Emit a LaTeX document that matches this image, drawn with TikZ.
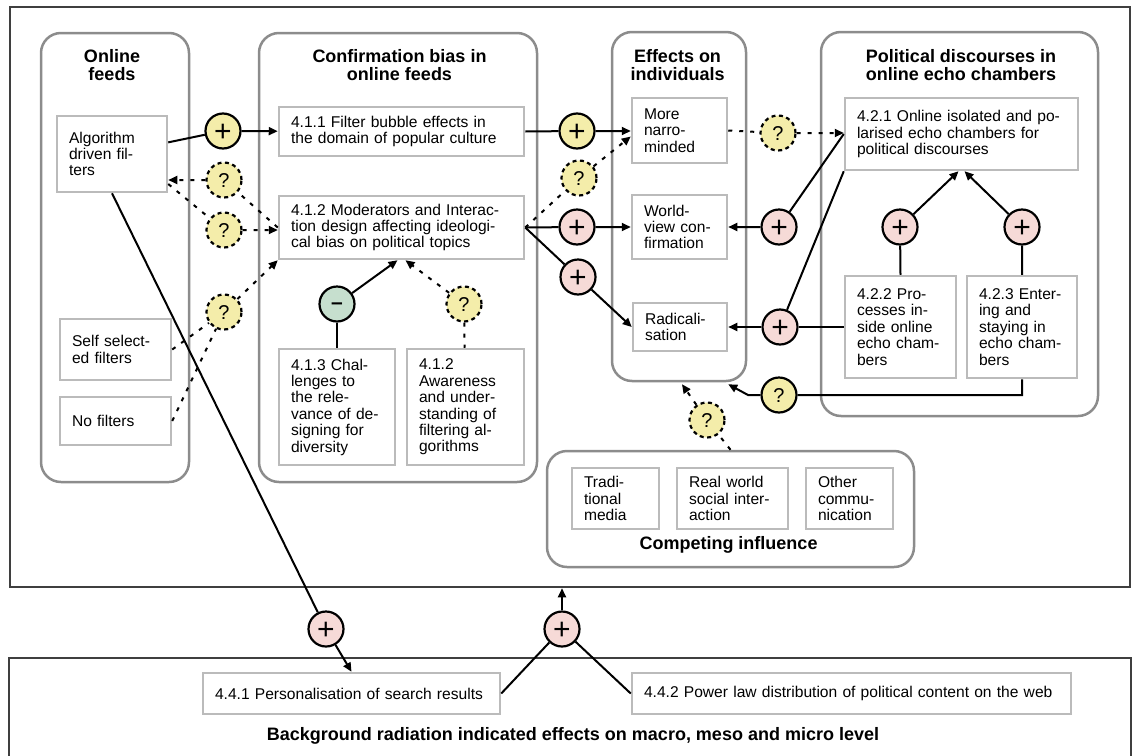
\documentclass[tikz,border=0pt]{standalone}
\usepackage{fontspec}
\setmainfont{Liberation Sans}
\usetikzlibrary{arrows.meta}
\definecolor{qyellow}{HTML}{F4EDAA}
\definecolor{ppink}{HTML}{F6DAD7}
\definecolor{mgreen}{HTML}{C6DFCE}
\definecolor{boxgray}{HTML}{BBBBBB}
\definecolor{panelgray}{HTML}{8C8C8C}
\definecolor{framegray}{HTML}{3F3F3F}
\newcommand\bodyfont{\fontsize{15.6}{16.4}\selectfont}
\newcommand\headfont{\fontsize{18}{18.5}\selectfont\bfseries}

\begin{document}
\begin{tikzpicture}[x=1pt,y=-1pt,
  outerframe/.style={draw=framegray, line width=2.5pt},
  panel/.style={draw=panelgray, line width=2.5pt, rounded corners=20pt, inner sep=0pt},
  head/.style={font=\headfont, align=center, inner sep=0pt},
  box/.style={draw=boxgray, line width=2.5pt, fill=white, font=\bodyfont, align=left, inner xsep=12pt, inner ysep=0pt},
  circ/.style={circle, draw=black, line width=2.2pt, minimum size=35pt, inner sep=0pt},
  plus/.style={circ, font=\fontsize{30}{30}\selectfont, text height=21pt, text depth=0pt},
  ppos/.style={plus, fill=ppink},
  ypos/.style={plus, fill=qyellow},
  neg/.style={circ, fill=mgreen, font=\fontsize{21}{21}\selectfont\bfseries, text height=11.5pt, text depth=0pt},
  ques/.style={circ, fill=qyellow, font=\fontsize{20}{20}\selectfont, text height=14.8pt, text depth=0pt},
  qdash/.style={ques, dash pattern=on 4pt off 3.5pt},
  conn/.style={draw=black, line width=2pt},
  arr/.style={-{Triangle[length=9pt,width=8pt]}},
  dsh/.style={dash pattern=on 4pt off 7pt},
]
\useasboundingbox (0,0) rectangle (1134,755);

% outer frames
\node[outerframe, minimum width=1120pt, minimum height=580pt, inner sep=0pt] (frameT) at (570,297) {};
\draw[outerframe] (9,770) -- (9,658) -- (1131,658) -- (1131,770);

% panels
\node[panel, minimum width=148pt, minimum height=449pt] (P1) at (115,257.5) {};
\node[panel, minimum width=278pt, minimum height=449pt] (P2) at (398,257.5) {};
\node[panel, minimum width=134pt, minimum height=349pt] (P3) at (679,206.5) {};
\node[panel, minimum width=277pt, minimum height=384pt] (P4) at (959.5,224) {};
\node[panel, minimum width=367pt, minimum height=116pt] (P5) at (730.5,509) {};

% panel headings
\node[head, anchor=north] (h1) at (112,49) {Online\\feeds};
\node[head, anchor=north] (h2) at (399.5,49) {Confirmation bias in\\online feeds};
\node[head, anchor=north] (h3) at (677.5,49) {Effects on\\individuals};
\node[head, anchor=north] (h4) at (961,49) {Political discourses in\\online echo chambers};
\node[head, anchor=base] (h5) at (728.5,549) {Competing influence};
\node[head, anchor=base] (h6) at (573,740) {Background radiation indicated effects on macro, meso and micro level};

% boxes
\node[box, text width=86pt, minimum height=76pt] (alg) at (112,154) {Algorithm\\driven fil-\\ters};
\node[box, text width=87pt, minimum height=61pt] (self) at (115.5,349.5) {Self select-\\ed filters};
\node[box, text width=87pt, minimum height=48pt] (nofilt) at (115.5,421) {No filters};
\node[box, text width=221pt, minimum height=49pt] (b411) at (401.5,131.5) {4.1.1 Filter bubble effects in\\the domain of popular culture};
\node[box, text width=221pt, minimum height=63pt] (b412) at (401.5,227.5) {4.1.2 Moderators and Interac-\\tion design affecting ideologi-\\cal bias on political topics};
\node[box, text width=92pt, minimum height=116pt] (b413) at (337,407) {4.1.3 Chal-\\lenges to\\the rele-\\vance of de-\\signing for\\diversity};
\node[box, text width=93pt, minimum height=116pt] (b412b) at (465.5,407) {4.1.2\\Awareness\\and under-\\standing of\\filtering al-\\gorithms};
\node[box, text width=71pt, minimum height=65pt] (narrow) at (679.5,130.5) {More\\narro-\\minded};
\node[box, text width=71pt, minimum height=64pt] (world) at (679.5,227) {World-\\view con-\\firmation};
\node[box, text width=70pt, minimum height=48pt] (radical) at (680,327) {Radicali-\\sation};
\node[box, text width=209pt, minimum height=72pt] (b421) at (961.5,134) {4.2.1 Online isolated and po-\\larised echo chambers for\\political discourses};
\node[box, text width=87pt, minimum height=102pt] (b422) at (900.5,327) {4.2.2 Pro-\\cesses in-\\side online\\echo cham-\\bers};
\node[box, text width=86pt, minimum height=102pt] (b423) at (1022,327) {4.2.3 Enter-\\ing and\\staying in\\echo cham-\\bers};
\node[box, text width=63pt, minimum height=61pt] (trad) at (615.5,498.5) {Tradi-\\tional\\media};
\node[box, text width=87pt, minimum height=61pt] (real) at (732.5,498.5) {Real world\\social inter-\\action};
\node[box, text width=63pt, minimum height=61pt] (other) at (849.5,498.5) {Other\\commu-\\nication};
\node[box, text width=273pt, minimum height=41pt] (b441) at (351.5,693.5) {4.4.1 Personalisation of search results};
\node[box, text width=415pt, minimum height=41pt] (b442) at (851.5,693.5) {4.4.2 Power law distribution of political content on the web};

% influence markers
\node[ypos] (pA) at (223,131) {+};
\node[qdash] (qA) at (224,180) {?};
\node[qdash] (qB) at (224,230) {?};
\node[qdash] (qC) at (224,312) {?};
\node[neg] (mn) at (337,304) {\textendash};
\node[qdash] (qD) at (464,304) {?};
\node[ypos] (pB) at (577,131) {+};
\node[qdash] (qE) at (579,178) {?};
\node[ppos] (pC) at (577,227) {+};
\node[ppos] (pD) at (578,277) {+};
\node[qdash] (qF) at (778,133) {?};
\node[ppos] (pE) at (779,227) {+};
\node[ppos] (pF) at (780,327) {+};
\node[ques] (qG) at (779,395) {?};
\node[qdash] (qH) at (707,420) {?};
\node[ppos] (pG) at (900,227) {+};
\node[ppos] (pH) at (1022,227) {+};
\node[ppos] (pI) at (326,629) {+};
\node[ppos] (pJ) at (562,629) {+};

\path (alg.east) ++(0,30) coordinate (algR);

% connectors
\draw[conn,arr] (alg) -- (pA) -- (b411);
\draw[conn,arr,dsh] (b412.west) -- (qA) -- (alg.east |- qA);
\draw[conn,arr,dsh] (algR) -- (qB) -- (b412.west |- qB);
\draw[conn,dsh] (self.east) -- (qC);
\draw[conn,dsh] (nofilt.east) -- (qC);
\draw[conn,dsh,arr] (qC) -- (b412.south west);
\draw[conn] (mn) -- (b413);
\draw[conn,arr] (mn) -- ([xshift=-4pt]b412.south);
\draw[conn,dsh,arr] (qD) -- ([xshift=4pt]b412.south);
\draw[conn,dsh] (qD) -- (b412b);

\draw[conn,arr] (b411.east) -- (pB) -- (narrow.west |- pB);
\draw[conn,arr] (b412.east) -- (pC) -- (world.west |- pC);
\draw[conn,arr] (b412.east) -- (pD) -- (radical.west);
\draw[conn,dsh,arr] (b412.east) -- (qE) -- ([yshift=-6pt]narrow.west);
\draw[conn,dsh,arr] (narrow.east) -- (qF) -- (b421.west |- qF);

\draw[conn,arr] (b421.west) -- (pE) -- (world.east |- pE);
\draw[conn] (b421.south west) -- (pF);
\draw[conn,arr] (b422.west) -- (pF) -- (radical.east);
\draw[conn,arr] (b422.north) -- (pG) -- ([xshift=-3pt]b421.south);
\draw[conn,arr] (b423.north) -- (pH) -- ([xshift=3pt]b421.south);
\draw[conn,arr] (b423.south) |- (qG) -- ++(-31,0) -- ([xshift=-19pt,yshift=-2pt]P3.south east);
\draw[conn,dsh,arr] (P5.north) -- (qH) -- ([xshift=3pt,yshift=-2pt]P3.south);

\draw[conn,arr] (alg.south) -- (pI) -- (b441.north);
\draw[conn] (b441.east) -- (pJ);
\draw[conn] (b442.west) -- (pJ);
\draw[conn,arr] (pJ) -- (frameT.south -| pJ);
\end{tikzpicture}
\end{document}
